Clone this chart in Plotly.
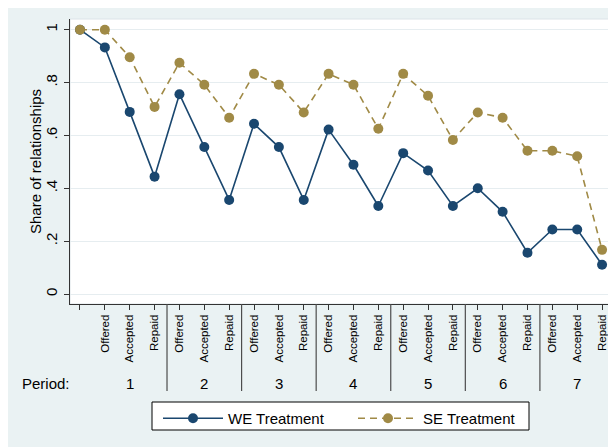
import plotly.graph_objects as go

stages = ["", "Offered", "Accepted", "Repaid"] + ["Offered", "Accepted", "Repaid"] * 6
periods = ["1", "2", "3", "4", "5", "6", "7"]
we_values = [1.0, 0.933, 0.689, 0.444, 0.756, 0.556, 0.356, 0.644, 0.556, 0.356,
             0.622, 0.489, 0.333, 0.533, 0.467, 0.333, 0.400, 0.311, 0.156,
             0.244, 0.244, 0.111]
se_values = [1.0, 1.0, 0.896, 0.708, 0.875, 0.792, 0.667, 0.833, 0.792, 0.687,
             0.833, 0.792, 0.625, 0.833, 0.750, 0.583, 0.687, 0.667, 0.542,
             0.542, 0.521, 0.167]
y_ticks = [0, 0.2, 0.4, 0.6, 0.8, 1.0]
y_ticklabels = ["0", ".2", ".4", ".6", ".8", "1"]

NAVY = "#1A476F"
GOLD = "#A08A46"
BG = "#EAF2F3"
FONT = "Liberation Sans, Arial, Helvetica, sans-serif"

xs = list(range(len(stages)))

fig = go.Figure()
fig.add_trace(go.Scatter(
    x=xs, y=we_values, mode="lines+markers", name="WE Treatment",
    line=dict(color=NAVY, width=1.6),
    marker=dict(color=NAVY, size=10),
))
fig.add_trace(go.Scatter(
    x=xs, y=se_values, mode="lines+markers", name="SE Treatment",
    line=dict(color=GOLD, width=1.6, dash="7px,5px"),
    marker=dict(color=GOLD, size=10),
))

# page body has an 8px margin, so the figure covers window pixels 8..616 x 8..447
OFF = 8
W, H = 616 - OFF, 447 - OFF
L, R, T, B = 70 - OFF, 616 - 613, 19 - OFF, 447 - 304
pw, ph = W - L - R, H - T - B


def px(xw):
    return (xw - OFF - L) / pw


def py(yw):
    return (H - B - (yw - OFF)) / ph


shapes = [
    dict(type="rect", xref="paper", yref="paper", x0=0, x1=1, y0=0, y1=1,
         fillcolor="white", line=dict(color="#DCE4E8", width=1), layer="below"),
    # legend frame
    dict(type="rect", xref="paper", yref="paper", x0=px(152), x1=px(529),
         y0=py(430), y1=py(402), fillcolor="white", line=dict(color="black", width=1),
         layer="above"),
]
for k in range(1, len(periods)):
    xsep = 3 * k + 0.5
    shapes.append(dict(type="line", xref="x", yref="paper", x0=xsep, x1=xsep,
                       y0=0, y1=py(391), line=dict(color="#4D4D4D", width=1.2)))

annotations = []
for k, p in enumerate(periods):
    annotations.append(dict(x=3 * k + 2, y=py(383), xref="x", yref="paper",
                            text=p, showarrow=False, xanchor="center", yanchor="middle",
                            font=dict(size=15, color="black", family=FONT)))
annotations.append(dict(x=px(20), y=py(383), xref="paper", yref="paper",
                        text="Period:", showarrow=False, xanchor="left", yanchor="middle",
                        font=dict(size=15, color="black", family=FONT)))
annotations.append(dict(x=px(35), y=py(162), xref="paper", yref="paper",
                        text="Share of relationships", textangle=-90, showarrow=False,
                        xanchor="center", yanchor="middle",
                        font=dict(size=15, color="black", family=FONT)))

fig.update_layout(
    width=W, height=H,
    margin=dict(l=L, r=R, t=T, b=B, pad=0),
    paper_bgcolor=BG,
    plot_bgcolor="rgba(0,0,0,0)",
    font=dict(family=FONT, color="black"),
    shapes=shapes,
    annotations=annotations,
    showlegend=True,
    legend=dict(
        orientation="h", x=px(158), xanchor="left", y=py(402), yanchor="top",
        bgcolor="rgba(0,0,0,0)", borderwidth=0,
        font=dict(size=15, family=FONT, color="black"),
        itemwidth=60, entrywidth=120,
    ),
    xaxis=dict(
        range=[-0.402, 21.44], tickmode="array", tickvals=xs, ticktext=stages,
        tickangle=-90, tickfont=dict(size=11.5, family=FONT, color="black"),
        ticks="outside", ticklen=5, tickcolor="#333333", tickwidth=1,
        showline=True, linecolor="#333333", linewidth=1,
        showgrid=False, zeroline=False, fixedrange=True,
    ),
    yaxis=dict(
        range=[-0.0378, 1.0405], tickmode="array", tickvals=y_ticks, ticktext=y_ticklabels,
        tickangle=-90, tickfont=dict(size=15, family=FONT, color="black"),
        ticks="outside", ticklen=5, tickcolor="#333333", tickwidth=1,
        ticklabelstandoff=1,
        showline=True, linecolor="#333333", linewidth=1,
        showgrid=True, gridcolor="#E6EDF0", gridwidth=1, zeroline=False,
        fixedrange=True,
    ),
)

fig.write_html("out.html")
